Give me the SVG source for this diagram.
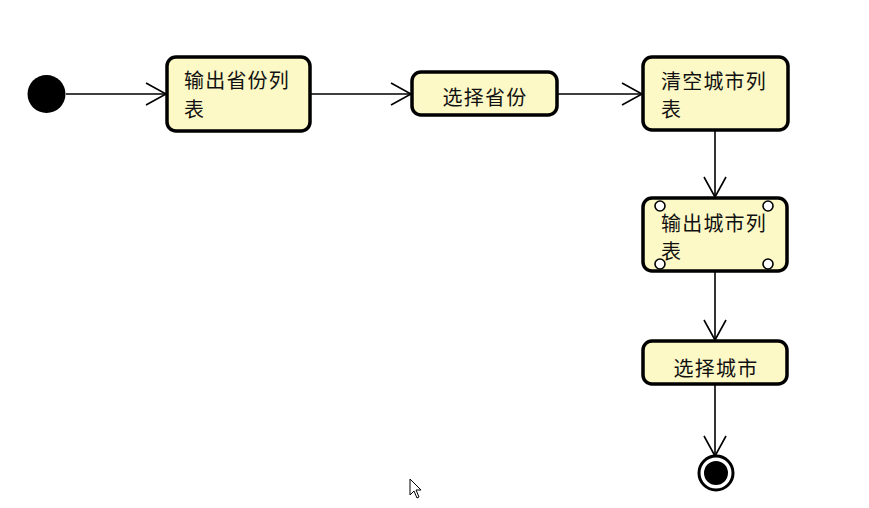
<svg xmlns="http://www.w3.org/2000/svg" width="869" height="508" viewBox="0 0 869 508">
<style>
.act{fill:#FDF9C6;stroke:#000;stroke-width:3.5}
.lbl{font-family:"Noto Sans CJK SC","Noto Sans CJK JP",sans-serif;font-size:20px;letter-spacing:1.2px;fill:#111}
.c{fill:none;stroke:#000;stroke-width:1.6}
.pin{fill:#fff;stroke:#000;stroke-width:1.6}
</style>
<defs>
<marker id="open" markerWidth="24" markerHeight="26" refX="21" refY="12" orient="auto" markerUnits="userSpaceOnUse">
<path d="M1,1 L21,12 L1,23" fill="none" stroke="#000" stroke-width="1.6"/>
</marker>
</defs>
<rect width="869" height="508" fill="#fff"/>
<g id="connectors">
<line class="c" x1="66" y1="94" x2="166" y2="94" marker-end="url(#open)"/>
<line class="c" x1="310" y1="94" x2="411" y2="94" marker-end="url(#open)"/>
<line class="c" x1="557" y1="94" x2="642" y2="94" marker-end="url(#open)"/>
<line class="c" x1="715" y1="130" x2="715" y2="197" marker-end="url(#open)"/>
<line class="c" x1="715" y1="271" x2="715" y2="340" marker-end="url(#open)"/>
<line class="c" x1="715" y1="384" x2="715" y2="456" marker-end="url(#open)"/>
</g>
<g id="start"><circle cx="46.5" cy="94" r="19" fill="#000"/></g>
<g id="n1">
<rect class="act" x="167" y="57" width="143" height="74" rx="9"/>
<text class="lbl" x="184" y="88">输出省份列</text>
<text class="lbl" x="184" y="117">表</text>
</g>
<g id="n2">
<rect class="act" x="412" y="72" width="145" height="43" rx="9"/>
<text class="lbl" x="485" y="105" text-anchor="middle">选择省份</text>
</g>
<g id="n3">
<rect class="act" x="643" y="57" width="145" height="73" rx="9"/>
<text class="lbl" x="661" y="89">清空城市列</text>
<text class="lbl" x="661" y="117">表</text>
</g>
<g id="n4">
<rect class="act" x="643" y="198" width="144" height="73" rx="9"/>
<circle class="pin" cx="660" cy="206" r="5"/>
<circle class="pin" cx="768" cy="206" r="5"/>
<circle class="pin" cx="660" cy="264" r="5"/>
<circle class="pin" cx="768" cy="264" r="5"/>
<text class="lbl" x="661" y="231">输出城市列</text>
<text class="lbl" x="661" y="259">表</text>
</g>
<g id="n5">
<rect class="act" x="643" y="341" width="144" height="43" rx="9"/>
<text class="lbl" x="716" y="376" text-anchor="middle">选择城市</text>
</g>
<g id="end">
<circle cx="716" cy="473" r="17" fill="#fff" stroke="#000" stroke-width="3"/>
<circle cx="716" cy="473" r="12" fill="#000"/>
</g>
<path d="M410,479 L410,495 L414,491 L417,498 L419,497 L416,490 L421,490 Z" fill="#fff" stroke="#000" stroke-width="1"/>
</svg>
